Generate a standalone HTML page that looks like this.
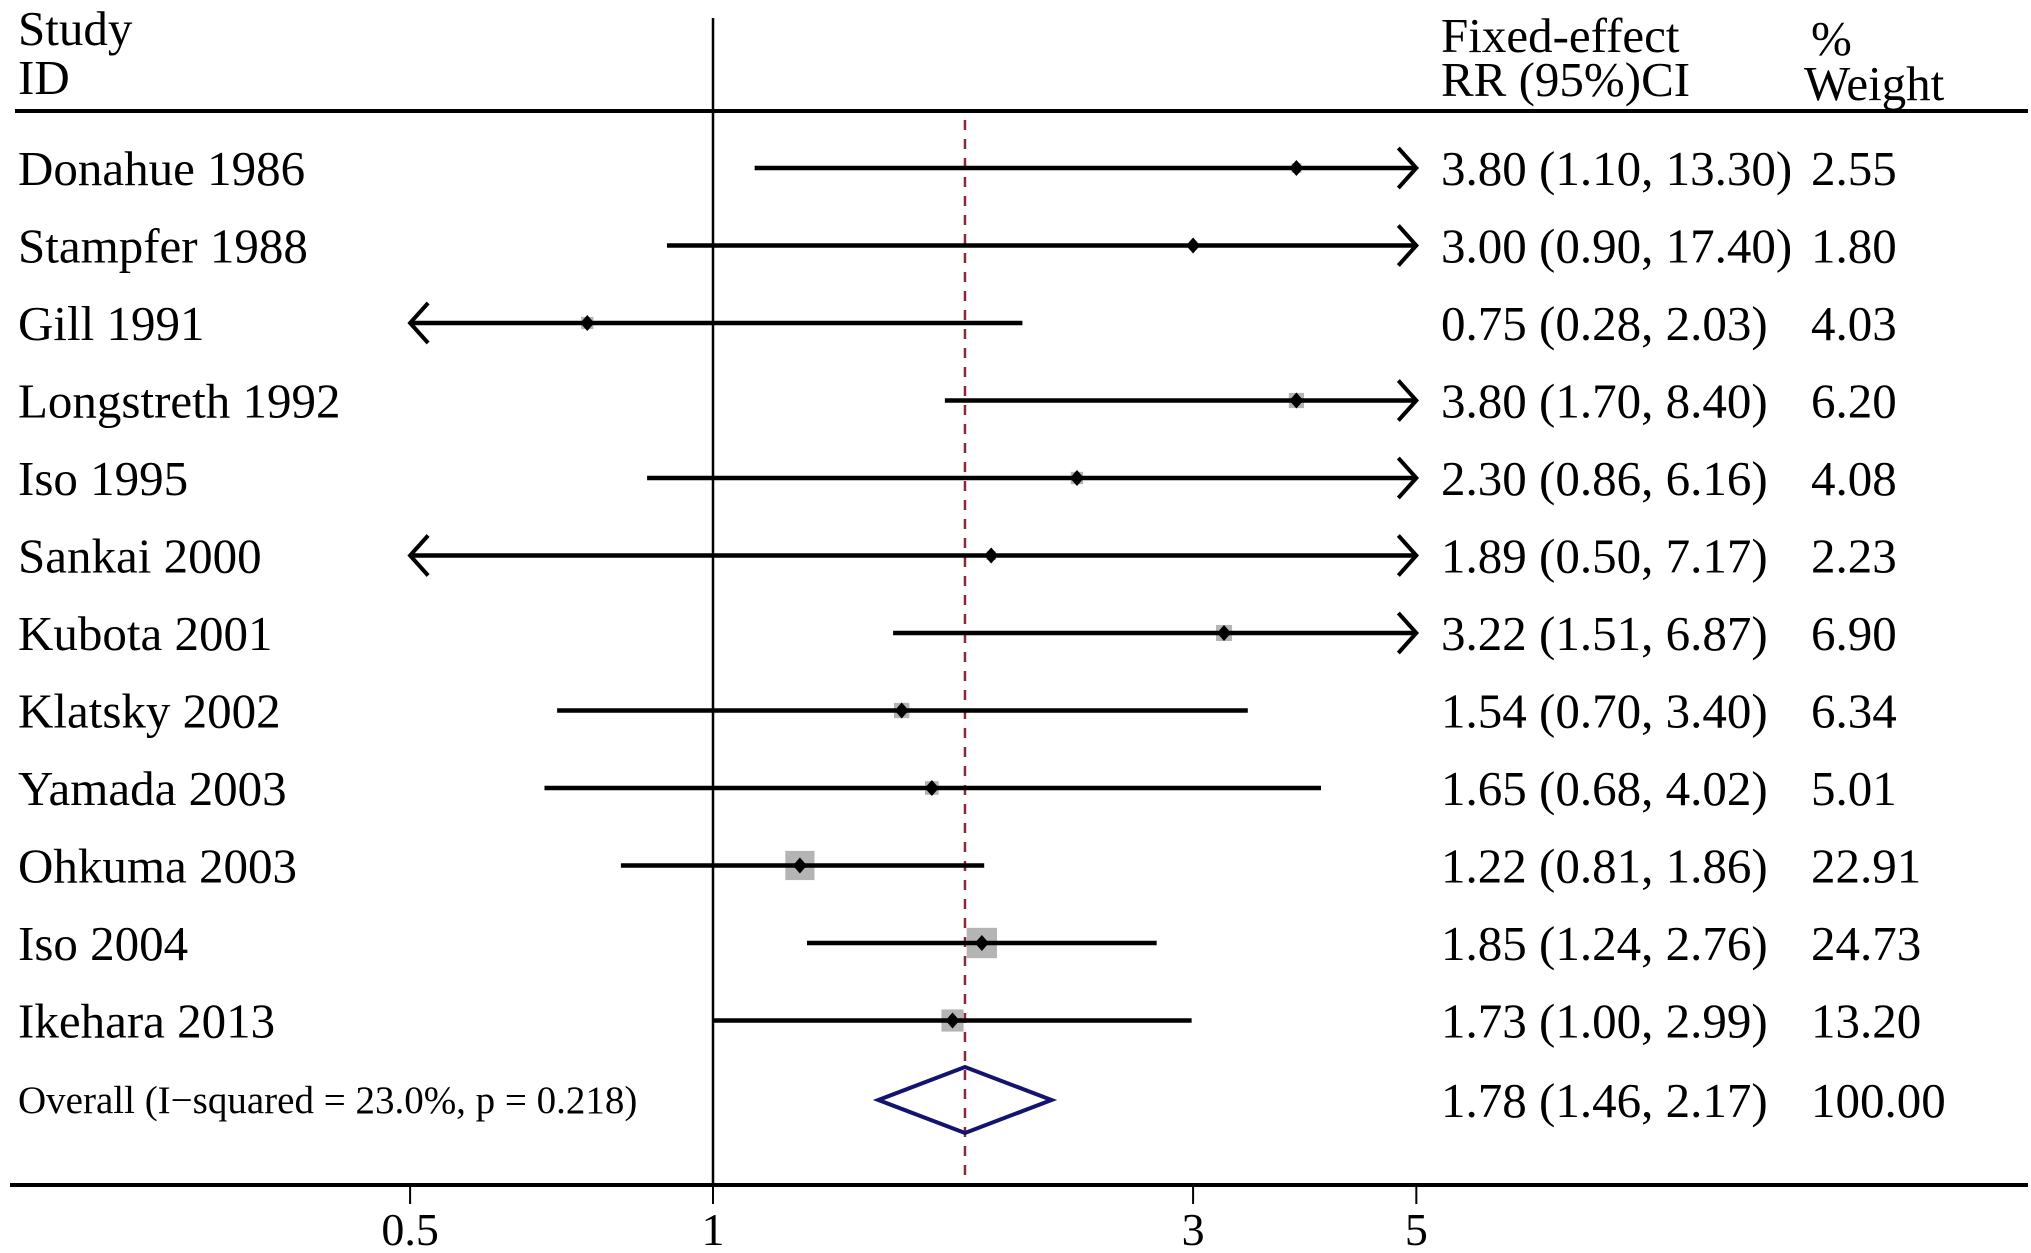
<!DOCTYPE html>
<html><head><meta charset="utf-8"><style>
html,body{margin:0;padding:0;background:#fff;}
svg{display:block;}
text{font-family:"Liberation Serif",serif;fill:#000;}
</style></head><body>
<svg id="chart" width="2031" height="1253" viewBox="0 0 2031 1253" xmlns="http://www.w3.org/2000/svg">
<text x="18" y="45" font-size="49">Study</text>
<text x="18" y="94" font-size="49">ID</text>
<text x="1441" y="52" font-size="49">Fixed-effect</text>
<text x="1441" y="96" font-size="49">RR (95%)CI</text>
<text x="1811" y="55" font-size="49">%</text>
<text x="1804" y="100" font-size="49">Weight</text>
<line x1="15" y1="111" x2="2028" y2="111" stroke="#000" stroke-width="4"/>
<g id="marks"></g>
</svg>
<script>
const studies = ["Donahue 1986","Stampfer 1988","Gill 1991","Longstreth 1992","Iso 1995","Sankai 2000","Kubota 2001","Klatsky 2002","Yamada 2003","Ohkuma 2003","Iso 2004","Ikehara 2013"];
const rr = [3.80,3.00,0.75,3.80,2.30,1.89,3.22,1.54,1.65,1.22,1.85,1.73];
const lower = [1.10,0.90,0.28,1.70,0.86,0.50,1.51,0.70,0.68,0.81,1.24,1.00];
const upper = [13.30,17.40,2.03,8.40,6.16,7.17,6.87,3.40,4.02,1.86,2.76,2.99];
const weights = [2.55,1.80,4.03,6.20,4.08,2.23,6.90,6.34,5.01,22.91,24.73,13.20];
const overall = [1.78,1.46,2.17];
const overallLabel = "Overall  (I\u2212squared = 23.0%, p = 0.218)";
const tickValues = [0.5,1,3,5];
const tickLabels = ["0.5","1","3","5"];

const NS="http://www.w3.org/2000/svg";
const g=document.getElementById('marks');
const X0=713, K=437, AXMIN=0.5, AXMAX=5;
function xs(v){return X0+K*Math.log(v);}
function ys(i){return 168+i*77.5;}
function el(t,a){const e=document.createElementNS(NS,t);for(const k in a)e.setAttribute(k,a[k]);g.appendChild(e);return e;}
function fmt(v){return v.toFixed(2);}

let e;
e=el('line',{x1:X0,y1:18,x2:X0,y2:1185,stroke:'#000','stroke-width':2.5});


e=el('line',{x1:xs(overall[0]),y1:120,x2:xs(overall[0]),y2:1185,stroke:'#8b2a35','stroke-width':2.5,'stroke-dasharray':'10 9'});



studies.forEach((s,i)=>{
  const y=ys(i);
  const lo=Math.max(lower[i],AXMIN), hi=Math.min(upper[i],AXMAX);
  let t=el('text',{x:18,y:y+17,'font-size':49});t.textContent=s;
  
  
  const side=6.1*Math.sqrt(weights[i]);
  let sq=el('rect',{x:xs(rr[i])-side/2,y:y-side/2,width:side,height:side,fill:'#b4b4b4'});
  
  
  let ln=el('line',{x1:xs(lo),y1:y,x2:xs(hi),y2:y,stroke:'#000','stroke-width':4.5});
  
  
  if(upper[i]>AXMAX){const tx=xs(AXMAX);
    let a=el('polyline',{points:`${tx-18},${y-20} ${tx},${y} ${tx-18},${y+20}`,fill:'none',stroke:'#000','stroke-width':4});
    
    }
  if(lower[i]<=AXMIN){const tx=xs(AXMIN);
    let a=el('polyline',{points:`${tx+18},${y-20} ${tx},${y} ${tx+18},${y+20}`,fill:'none',stroke:'#000','stroke-width':4});
    
    }
  const px=xs(rr[i]);
  let d=el('polygon',{points:`${px-7},${y} ${px},${y-8} ${px+7},${y} ${px},${y+8}`,fill:'#000'});
  
  
  let r=el('text',{x:1441,y:y+17,'font-size':49});r.textContent=`${fmt(rr[i])} (${fmt(lower[i])}, ${fmt(upper[i])})`;
  
  
  let w=el('text',{x:1811,y:y+17,'font-size':49});w.textContent=fmt(weights[i]);
  
  
});

const oy=1100;
let ot=el('text',{x:18,y:oy+13,'font-size':39});ot.textContent=overallLabel;


let dm=el('polygon',{points:`${xs(overall[1])},${oy} ${xs(overall[0])},${oy-33} ${xs(overall[2])},${oy} ${xs(overall[0])},${oy+33}`,fill:'none',stroke:'#14146e','stroke-width':4});


let orr=el('text',{x:1441,y:oy+17,'font-size':49});orr.textContent=`${fmt(overall[0])} (${fmt(overall[1])}, ${fmt(overall[2])})`;


let ow=el('text',{x:1811,y:oy+17,'font-size':49});ow.textContent="100.00";



let ax=el('line',{x1:10,y1:1185,x2:2028,y2:1185,stroke:'#000','stroke-width':4});


tickValues.forEach((v,i)=>{
  let tk=el('line',{x1:xs(v),y1:1185,x2:xs(v),y2:1204,stroke:'#000','stroke-width':2});
  
  
  let tl=el('text',{x:xs(v),y:1245,'font-size':46,'text-anchor':'middle'});tl.textContent=tickLabels[i];
  
  
});
</script>
</body></html>
